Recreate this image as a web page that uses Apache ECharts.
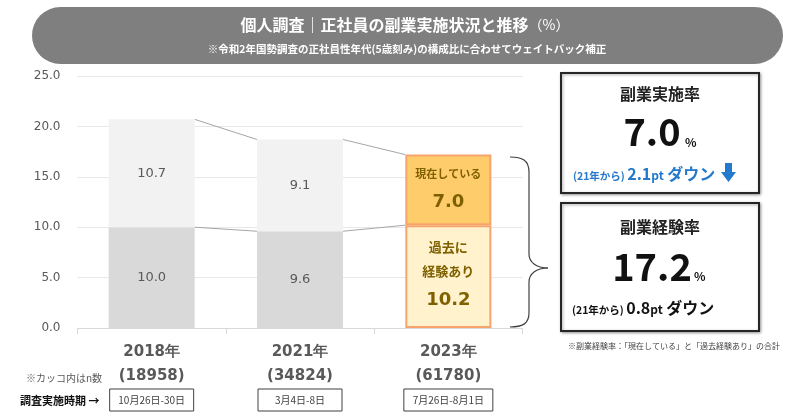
<!DOCTYPE html>
<html><head><meta charset="utf-8">
<script src="https://cdn.jsdelivr.net/npm/echarts@6/dist/echarts.min.js"></script>
<style>html,body{margin:0;padding:0;background:#fff}#c{width:800px;height:418px}</style>
</head><body><div id="c"></div>
<script>
const years = ['2018年', '2021年', '2023年'];
const nCounts = ['(18958)', '(34824)', '(61780)'];
const periods = ['10月26日-30日', '3月4日-8日', '7月26日-8月1日'];
const pastExp = [10.0, 9.6, 10.2];     // 過去に経験あり
const current = [10.7, 9.1, 7.0];      // 現在している
const yTicks = [0, 5, 10, 15, 20, 25];
const rateNow = '7.0';
const rateExp = '17.2';
const diffNow = '2.1';
const diffExp = '0.8';

const JP = '"Noto Sans CJK JP", sans-serif';
const NUM = '"DejaVu Sans", sans-serif';
const GOLD = '#7f6000';
const ORANGE_BORDER = '#f7a46c';
const BLUE = '#2479cc';
const hl = years.length - 1;

const totals = pastExp.map((v, i) => v + current[i]);
const links = [];
for (let i = 0; i < years.length - 1; i++) links.push([i, pastExp[i], totals[i], pastExp[i + 1], totals[i + 1]]);

const chart = echarts.init(document.getElementById('c'), null, {renderer: 'canvas'});

const braceStyle = {fill: 'none', stroke: '#404040', lineWidth: 1.2};
const bz = (x1, y1, c1x, c1y, c2x, c2y, x2, y2) => ({type: 'bezierCurve',
  shape: {x1: x1, y1: y1, cpx1: c1x, cpy1: c1y, cpx2: c2x, cpy2: c2y, x2: x2, y2: y2}, style: braceStyle});
const ln = (x1, y1, x2, y2) => ({type: 'line', shape: {x1: x1, y1: y1, x2: x2, y2: y2}, style: braceStyle});

const option = {
  animation: false,
  grid: {left: 77.5, right: 277.5, top: 76, bottom: 90},
  xAxis: {
    type: 'category', data: years,
    axisLine: {lineStyle: {color: '#d9d9d9'}},
    axisTick: {show: true, length: 6, lineStyle: {color: '#d9d9d9'}},
    axisLabel: {
      margin: 12,
      formatter: (v, i) => '{y|' + v + '}\n{n|' + nCounts[i] + '}\n{' + (i === hl ? 'd3' : 'd') + '|' + periods[i] + '}',
      rich: {
        y: {fontFamily: NUM, fontWeight: 'bold', fontSize: 15, color: '#595959', lineHeight: 24},
        n: {fontFamily: NUM, fontWeight: 'bold', fontSize: 15, color: '#595959', lineHeight: 24},
        d: {fontFamily: JP, fontSize: 10, color: '#404040', borderColor: '#404040', borderWidth: 1,
            width: 84, height: 22, align: 'center', lineHeight: 24},
        d3: {fontFamily: JP, fontSize: 10, color: '#404040', borderColor: '#404040', borderWidth: 1,
            width: 89, height: 22, align: 'center', lineHeight: 24}
      }
    }
  },
  yAxis: {
    type: 'value', min: yTicks[0], max: yTicks[yTicks.length - 1], interval: yTicks[1] - yTicks[0],
    axisLine: {show: false}, axisTick: {show: false},
    axisLabel: {formatter: v => v.toFixed(1), fontFamily: NUM, fontSize: 12, color: '#595959', margin: 17},
    splitLine: {lineStyle: {color: '#e8e8e8'}}
  },
  series: [
    {
      type: 'bar', stack: 's', barWidth: '58%', z: 3,
      itemStyle: {color: '#d9d9d9'},
      label: {show: true, position: 'inside', fontFamily: NUM, fontSize: 13, color: '#595959',
              formatter: p => p.value.toFixed(1)},
      data: pastExp.map((v, i) => i === hl ? {
        value: v,
        itemStyle: {color: '#fff2cc', borderColor: ORANGE_BORDER, borderWidth: 2},
        label: {
          formatter: '{a|過去に}\n{a|経験あり}\n{b|' + v.toFixed(1) + '}',
          rich: {
            a: {fontFamily: JP, fontWeight: 'bold', fontSize: 13, color: GOLD, lineHeight: 24},
            b: {fontFamily: NUM, fontWeight: 'bold', fontSize: 18, color: GOLD, lineHeight: 36}
          }
        }
      } : v)
    },
    {
      type: 'bar', stack: 's', barWidth: '58%', z: 3,
      itemStyle: {color: '#f2f2f2'},
      label: {show: true, position: 'inside', fontFamily: NUM, fontSize: 13, color: '#595959',
              formatter: p => p.value.toFixed(1)},
      data: current.map((v, i) => i === hl ? {
        value: v,
        itemStyle: {color: '#ffcc6b', borderColor: ORANGE_BORDER, borderWidth: 2},
        label: {
          formatter: '{a|現在している}\n{b|' + v.toFixed(1) + '}',
          rich: {
            a: {fontFamily: JP, fontWeight: 'bold', fontSize: 11, color: GOLD, lineHeight: 24},
            b: {fontFamily: NUM, fontWeight: 'bold', fontSize: 18, color: GOLD, lineHeight: 32}
          }
        }
      } : v)
    },
    {
      type: 'custom', silent: true, z: 2,
      data: links,
      encode: {x: 0, y: 1},
      renderItem: (params, api) => {
        const i = api.value(0);
        const bw = api.size([1, 0])[0] * 0.58;
        const mk = (a, b) => {
          const p1 = api.coord([i, a]);
          const p2 = api.coord([i + 1, b]);
          return {type: 'line', shape: {x1: p1[0] + bw / 2, y1: p1[1], x2: p2[0] - bw / 2, y2: p2[1]},
                  style: {stroke: '#a6a6a6', lineWidth: 1}};
        };
        return {type: 'group', children: [mk(api.value(1), api.value(3)), mk(api.value(2), api.value(4))]};
      }
    }
  ],
  graphic: [
    {type: 'rect', shape: {x: 32, y: 7, width: 751, height: 57, r: 28.5}, style: {fill: '#7f7f7f'}},
    {type: 'text', x: 405, y: 25, style: {
      text: '{t|個人調査｜正社員の副業実施状況と推移}{p|（%）}', align: 'center', verticalAlign: 'middle',
      rich: {t: {fontFamily: JP, fontWeight: 'bold', fontSize: 16, fill: '#fff'},
             p: {fontFamily: JP, fontSize: 14, fill: '#fff'}}}},
    {type: 'text', x: 407, y: 49, style: {
      text: '※令和2年国勢調査の正社員性年代(5歳刻み)の構成比に合わせてウェイトバック補正',
      align: 'center', verticalAlign: 'middle', fontFamily: JP, fontWeight: 'bold', fontSize: 10.5, fill: '#fff'}},
    // brace
    bz(510, 157, 522, 157, 529, 160, 529, 172),
    ln(529, 172, 529, 254),
    bz(529, 254, 529, 262, 536, 268, 548, 268),
    bz(548, 268, 536, 268, 529, 274, 529, 282),
    ln(529, 282, 529, 313),
    bz(529, 313, 529, 324, 522, 327, 510, 327),
    // box 1
    {type: 'rect', shape: {x: 561, y: 73, width: 198, height: 120},
     style: {fill: '#fff', stroke: '#262626', lineWidth: 2, shadowBlur: 3, shadowOffsetX: 1, shadowOffsetY: 1, shadowColor: 'rgba(0,0,0,0.35)'}},
    {type: 'text', x: 660, y: 94, style: {text: '副業実施率', align: 'center', verticalAlign: 'middle',
      fontFamily: JP, fontWeight: 'bold', fontSize: 16, fill: '#222'}},
    {type: 'text', x: 652, y: 132, style: {text: rateNow, align: 'center', verticalAlign: 'middle',
      fontFamily: JP, fontWeight: 'bold', fontSize: 38, fill: '#111'}},
    {type: 'text', x: 685, y: 142, style: {text: '%', align: 'left', verticalAlign: 'middle',
      fontFamily: JP, fontWeight: 'bold', fontSize: 12, fill: '#111'}},
    {type: 'text', x: 573, y: 174, style: {
      text: '{s|(21年から) }{n|' + diffNow + '}{p|pt}{n| ダウン}', align: 'left', verticalAlign: 'middle',
      rich: {s: {fontFamily: JP, fontWeight: 'bold', fontSize: 10.5, fill: BLUE, verticalAlign: 'bottom', padding: [0, 0, 1, 0]},
             n: {fontFamily: JP, fontWeight: 'bold', fontSize: 16, fill: BLUE, verticalAlign: 'bottom'},
             p: {fontFamily: JP, fontWeight: 'bold', fontSize: 12, fill: BLUE, verticalAlign: 'bottom', padding: [0, 0, 1, 0]}}}},
    {type: 'polygon', shape: {points: [[725, 163], [732, 163], [732, 172], [736, 172], [728.5, 182], [721, 172], [725, 172]]},
     style: {fill: BLUE}},
    // box 2
    {type: 'rect', shape: {x: 561, y: 203, width: 198, height: 128},
     style: {fill: '#fff', stroke: '#262626', lineWidth: 2, shadowBlur: 3, shadowOffsetX: 1, shadowOffsetY: 1, shadowColor: 'rgba(0,0,0,0.35)'}},
    {type: 'text', x: 660, y: 227, style: {text: '副業経験率', align: 'center', verticalAlign: 'middle',
      fontFamily: JP, fontWeight: 'bold', fontSize: 16, fill: '#222'}},
    {type: 'text', x: 652, y: 267, style: {text: rateExp, align: 'center', verticalAlign: 'middle',
      fontFamily: JP, fontWeight: 'bold', fontSize: 38, fill: '#111'}},
    {type: 'text', x: 694, y: 276, style: {text: '%', align: 'left', verticalAlign: 'middle',
      fontFamily: JP, fontWeight: 'bold', fontSize: 12, fill: '#111'}},
    {type: 'text', x: 572, y: 308, style: {
      text: '{s|(21年から) }{n|' + diffExp + '}{p|pt}{n| ダウン}', align: 'left', verticalAlign: 'middle',
      rich: {s: {fontFamily: JP, fontWeight: 'bold', fontSize: 10.5, fill: '#111', verticalAlign: 'bottom', padding: [0, 0, 1, 0]},
             n: {fontFamily: JP, fontWeight: 'bold', fontSize: 16, fill: '#111', verticalAlign: 'bottom'},
             p: {fontFamily: JP, fontWeight: 'bold', fontSize: 12, fill: '#111', verticalAlign: 'bottom', padding: [0, 0, 1, 0]}}}},
    {type: 'text', x: 568, y: 346, style: {text: '※副業経験率：「現在している」と「過去経験あり」の合計',
      align: 'left', verticalAlign: 'middle', fontFamily: JP, fontSize: 8, fill: '#404040'}},
    // left annotations
    {type: 'text', x: 102, y: 378, style: {text: '※カッコ内はn数', align: 'right', verticalAlign: 'middle',
      fontFamily: JP, fontSize: 10, fill: '#595959'}},
    {type: 'text', x: 20, y: 401, style: {text: '調査実施時期 →', align: 'left', verticalAlign: 'middle',
      fontFamily: JP, fontWeight: 'bold', fontSize: 11, fill: '#111'}}
  ]
};
chart.setOption(option);
</script></body></html>
